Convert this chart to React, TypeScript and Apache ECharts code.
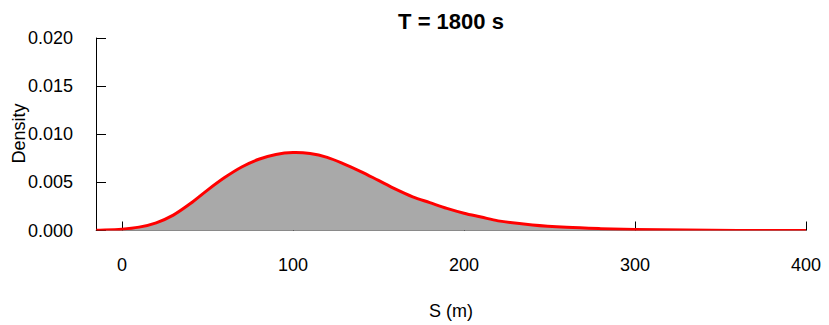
import React, { useEffect, useRef } from "react";
import * as echarts from "echarts";

const titleText = "T = 1800 s";
const xName = "S (m)";
const yName = "Density";

const xTicks = [0, 100, 200, 300, 400];
const yTicks = [0, 0.005, 0.01, 0.015, 0.02];

const sValues = [-15, 0, 10, 20, 30, 40, 50, 60, 70, 80, 90, 100, 110, 120, 130, 140, 150, 160, 170, 180, 190, 200, 210, 220, 240, 260, 280, 300, 330, 360, 400];
const densityValues = [0.00002, 0.00014, 0.00035, 0.0008, 0.0016, 0.0028, 0.0042, 0.0055, 0.0066, 0.0074, 0.0079, 0.0081, 0.008, 0.0076, 0.0069, 0.0061, 0.0052, 0.0043, 0.0035, 0.0029, 0.0023, 0.0018, 0.0014, 0.001, 0.00058, 0.00033, 0.00019, 0.0001, 0.00004, 0.00001, 0.000002];

const FONT = "'Liberation Sans', Arial, sans-serif";

// Cubic Hermite spline through pixel points (tangents from neighbouring points)
function splinePath(pts: number[][]): string {
  const n = pts.length;
  const slope = (i: number) => {
    const a = pts[Math.max(0, i - 1)];
    const b = pts[Math.min(n - 1, i + 1)];
    return (b[1] - a[1]) / (b[0] - a[0]);
  };
  let d = `M${pts[0][0]},${pts[0][1]}`;
  for (let i = 0; i < n - 1; i++) {
    const p1 = pts[i];
    const p2 = pts[i + 1];
    const dx = p2[0] - p1[0];
    const m1 = slope(i);
    const m2 = slope(i + 1);
    const c1x = p1[0] + dx / 3;
    const c1y = p1[1] + (m1 * dx) / 3;
    const c2x = p2[0] - dx / 3;
    const c2y = p2[1] - (m2 * dx) / 3;
    d += ` C${c1x},${c1y} ${c2x},${c2y} ${p2[0]},${p2[1]}`;
  }
  return d;
}

export default function App() {
  const ref = useRef<HTMLDivElement>(null);
  useEffect(() => {
    if (!ref.current) return;
    const chart = echarts.init(ref.current, null, { renderer: "svg" });
    const data = sValues.map((s, i) => [s, densityValues[i]]);
    chart.setOption({
      animation: false,
      backgroundColor: "#ffffff",
      grid: { left: 96, right: 23, top: 38, bottom: 94.5, containLabel: false },
      xAxis: {
        type: "value",
        min: -15.2,
        max: 400,
        axisLine: { show: true, onZero: false, lineStyle: { color: "#808080", width: 1 } },
        axisTick: { show: true, inside: true, length: 9, customValues: xTicks, lineStyle: { color: "#000", width: 1 } },
        axisLabel: { customValues: xTicks, margin: 25, color: "#000", fontSize: 18, fontFamily: FONT },
        splitLine: { show: false },
      },
      yAxis: {
        type: "value",
        min: yTicks[0],
        max: yTicks[yTicks.length - 1],
        interval: 0.005,
        axisLine: { show: true, onZero: false, lineStyle: { color: "#000", width: 1 } },
        axisTick: { show: true, inside: true, length: 10, lineStyle: { color: "#000", width: 1 } },
        axisLabel: {
          margin: 23,
          color: "#000",
          fontSize: 18,
          fontFamily: FONT,
          formatter: (v: number) => v.toFixed(3),
        },
        splitLine: { show: false },
      },
      graphic: [
        {
          type: "text",
          x: 451,
          y: 21,
          style: { text: titleText, fontSize: 22, fontWeight: "bold", fontFamily: FONT, fill: "#000", align: "center", verticalAlign: "middle" },
        },
        {
          type: "text",
          x: 451,
          y: 311,
          style: { text: xName, fontSize: 18, fontFamily: FONT, fill: "#000", align: "center", verticalAlign: "middle" },
        },
        {
          type: "text",
          x: 19,
          y: 133.5,
          rotation: Math.PI / 2,
          style: { text: yName, fontSize: 18, fontFamily: FONT, fill: "#000", align: "center", verticalAlign: "middle" },
        },
      ],
      series: [
        {
          type: "custom",
          data,
          encode: { x: 0, y: 1 },
          clip: true,
          z: 3,
          renderItem: (params: any, api: any) => {
            if (params.dataIndex !== 0) return null;
            const pts = sValues.map((s, i) => api.coord([s, densityValues[i]]));
            const base = api.coord([0, 0])[1];
            const line = splinePath(pts);
            const last = pts[pts.length - 1];
            const area = `${line} L${last[0]},${base} L${pts[0][0]},${base} Z`;
            return {
              type: "group",
              children: [
                { type: "path", shape: { pathData: area }, style: { fill: "#a9a9a9", stroke: "none" } },
                { type: "path", shape: { pathData: line }, style: { fill: "none", stroke: "#ff0000", lineWidth: 3 } },
              ],
            };
          },
        },
      ],
    });
    return () => chart.dispose();
  }, []);
  return <div ref={ref} style={{ position: "fixed", left: 0, top: 0, width: 829, height: 325 }} />;
}
